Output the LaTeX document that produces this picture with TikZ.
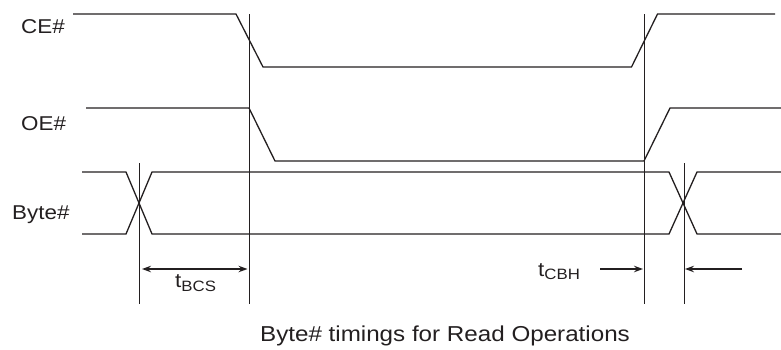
\documentclass[tikz,border=0pt]{standalone}
\usepackage{fontspec}
\setmainfont{Liberation Sans}
\usetikzlibrary{arrows.meta}
\definecolor{ink}{HTML}{231F20}
\newcommand{\wide}[1]{\scalebox{1.12}[1]{#1}}
\newcommand{\tsub}[2]{\wide{{\fontsize{20}{20}\selectfont #1}{\fontsize{15}{15}\selectfont\raisebox{-3.5pt}{#2}}}}
\begin{document}
\begin{tikzpicture}[x=1pt,y=-1pt,
  signal/.style={draw=ink,line width=1.3pt,line join=miter},
  marker/.style={draw=ink,line width=0.8pt},
  dim/.style={draw=ink,line width=1.3pt,-{Stealth[length=9pt,width=6.5pt]}},
  dimboth/.style={draw=ink,line width=1.3pt,{Stealth[length=9pt,width=6.5pt]}-{Stealth[length=9pt,width=6.5pt]}},
  lab/.style={anchor=base west,inner sep=0pt,text=ink,font=\fontsize{20}{20}\selectfont}]
\useasboundingbox (0,0) rectangle (781,349);
% signal labels
\node[lab] (ce) at (21,33) {\wide{CE\#}};
\node[lab] (oe) at (21,130) {\wide{OE\#}};
\node[lab] (byte) at (12,219) {\wide{Byte\#}};
% marker coordinates
\coordinate (m1t) at (139,163); \coordinate (m1b) at (139,304);
\coordinate (m2t) at (249,14);  \coordinate (m2b) at (249,304);
\coordinate (m3t) at (644,14);  \coordinate (m3b) at (644,304);
\coordinate (m4t) at (684,163); \coordinate (m4b) at (684,304);
% waveforms
\draw[signal] (73,14) -- (236,14) -- (263,67) -- (631.5,67) -- (657.5,14) -- (775,14);
\draw[signal] (86,108) -- (249,108) -- (275,161) -- (644,161) -- (670,108) -- (781,108);
\draw[signal] (82,172) -- (126,172) -- (152,234) -- (669,234) -- (697,172) -- (781,172);
\draw[signal] (82,234) -- (126,234) -- (152,172) -- (669,172) -- (697,234) -- (781,234);
% timing markers
\draw[marker] (m1t) -- (m1b);
\draw[marker] (m2t) -- (m2b);
\draw[marker] (m3t) -- (m3b);
\draw[marker] (m4t) -- (m4b);
% dimensions
\coordinate (a1) at (142,269); \coordinate (a2) at (247.5,269);
\draw[dimboth] (a1) -- (a2);
\node[lab] (tbcs) at (175,287.5) {\tsub{t}{BCS}};
\coordinate (b1) at (600,269); \coordinate (b2) at (643,269);
\coordinate (c1) at (742,269); \coordinate (c2) at (685,269);
\draw[dim] (b1) -- (b2);
\draw[dim] (c1) -- (c2);
\node[lab] (tcbh) at (538,276) {\tsub{t}{CBH}};
% caption
\node[anchor=base,inner sep=0pt,text=ink,font=\fontsize{21.6}{22}\selectfont] (cap) at (445,341.5) {\wide{Byte\# timings for Read Operations}};
\end{tikzpicture}
\end{document}
